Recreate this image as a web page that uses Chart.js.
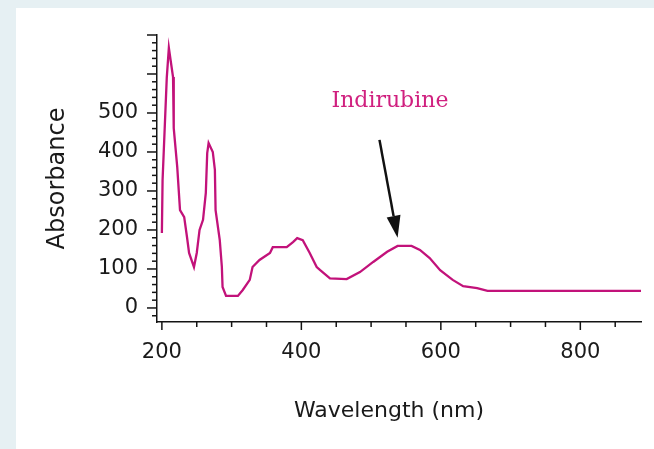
<!DOCTYPE html>
<html>
<head>
<meta charset="utf-8">
<script src="https://cdn.jsdelivr.net/npm/chart.js@4/dist/chart.umd.min.js"></script>
<style>
  html, body { margin: 0; padding: 0; }
  body { width: 654px; height: 449px; background: #e6f0f3; position: relative; overflow: hidden; }
  #panel { position: absolute; left: 16px; top: 8px; right: 0; bottom: 0; background: #fff; }
  #chart { position: absolute; left: 0; top: 0; }
</style>
</head>
<body>
<div id="panel"></div>
<canvas id="chart" width="654" height="449"></canvas>
<script>
// Spectrum (wavelength in nm, absorbance)
const wavelengths = [200, 201, 207, 210, 216, 217, 222, 226, 232, 236,
    239, 246, 250, 254, 259, 263, 265, 267, 273, 276,
    277, 283, 286, 287, 292, 309, 316, 326, 330, 340,
    355, 359, 379, 388, 394, 402, 412, 422, 427, 441,
    465, 484, 503, 523, 538, 558, 570, 584, 599, 617,
    632, 652, 667, 887];
const absorbance = [192, 328, 590, 667, 592, 461, 362, 251, 233, 182,
    141, 105, 141, 200, 226, 295, 397, 423, 400, 354,
    251, 174, 105, 54, 31, 31, 46, 72, 105, 123,
    141, 156, 156, 169, 179, 174, 141, 105, 97, 76,
    74, 92, 118, 144, 159, 159, 149, 128, 97, 72,
    56, 51, 44, 44];

// Axis ticks
const xLabelTicks = [200, 400, 600, 800];
const xMinorTicks = [200, 250, 300, 350, 400, 450, 500, 550, 600, 650, 700, 750, 800, 850];
const yLabelTicks = [0, 100, 200, 300, 400, 500];
const yMajorTicks = [0, 100, 200, 300, 400, 500, 600, 700];
const yMinorTicks = [-20, 0, 20, 40, 60, 80, 100, 120, 140, 160, 180, 200, 220, 240, 260, 280,
    300, 320, 340, 360, 380, 400, 420, 440, 460, 480, 500, 520, 540, 560, 580, 600,
    620, 640, 660, 680, 700];

// Annotation (in data units)
const peakLabel = 'Indirubine';
const labelAt = [527, 515];
const arrowFrom = [512, 431];
const arrowTo = [538, 180];

const axisColor = '#141414';
const lineColor = '#c2127a';

const decorPlugin = {
    id: 'decor',
    afterDraw(chart) {
        const { ctx, chartArea, scales: { x, y } } = chart;
        ctx.save();
        ctx.strokeStyle = axisColor;
        ctx.lineWidth = 1.5;

        // x ticks, below the axis
        xMinorTicks.forEach(v => {
            const px = x.getPixelForValue(v);
            const len = xLabelTicks.includes(v) ? 8 : 5;
            ctx.beginPath();
            ctx.moveTo(px, chartArea.bottom);
            ctx.lineTo(px, chartArea.bottom + len);
            ctx.stroke();
        });

        // y ticks, left of the axis
        yMinorTicks.forEach(v => {
            const py = y.getPixelForValue(v);
            const len = yMajorTicks.includes(v) ? 10 : 5;
            ctx.beginPath();
            ctx.moveTo(chartArea.left, py);
            ctx.lineTo(chartArea.left - len, py);
            ctx.stroke();
        });

        // axis titles
        ctx.fillStyle = '#1a1a1a';
        ctx.font = '24px "DejaVu Sans"';
        ctx.textAlign = 'center';
        ctx.textBaseline = 'middle';
        ctx.save();
        ctx.translate(chartArea.left - 99, (chartArea.top + chartArea.bottom) / 2);
        ctx.rotate(-Math.PI / 2);
        ctx.fillText('Absorbance', 0, 0);
        ctx.restore();

        ctx.font = '22px "DejaVu Sans"';
        ctx.textBaseline = 'alphabetic';
        ctx.fillText('Wavelength (nm)', chartArea.left + 232, chartArea.bottom + 95);

        // peak label
        ctx.fillStyle = '#d0207f';
        ctx.font = '22px "DejaVu Serif"';
        ctx.fillText(peakLabel, x.getPixelForValue(labelAt[0]), y.getPixelForValue(labelAt[1]));

        // arrow
        const x0 = x.getPixelForValue(arrowFrom[0]), y0 = y.getPixelForValue(arrowFrom[1]);
        const x1 = x.getPixelForValue(arrowTo[0]), y1 = y.getPixelForValue(arrowTo[1]);
        const ang = Math.atan2(y1 - y0, x1 - x0);
        const headLen = 22, headW = 7;
        const bx = x1 - headLen * Math.cos(ang), by = y1 - headLen * Math.sin(ang);
        ctx.strokeStyle = '#111';
        ctx.fillStyle = '#111';
        ctx.lineWidth = 2.5;
        ctx.beginPath();
        ctx.moveTo(x0, y0);
        ctx.lineTo(bx, by);
        ctx.stroke();
        ctx.beginPath();
        ctx.moveTo(x1, y1);
        ctx.lineTo(bx + headW * Math.sin(ang), by - headW * Math.cos(ang));
        ctx.lineTo(bx - headW * Math.sin(ang), by + headW * Math.cos(ang));
        ctx.closePath();
        ctx.fill();

        ctx.restore();
    }
};

new Chart(document.getElementById('chart'), {
    type: 'line',
    data: {
        datasets: [{
            data: wavelengths.map((w, i) => ({ x: w, y: absorbance[i] })),
            borderColor: lineColor,
            borderWidth: 2.3,
            pointRadius: 0,
            tension: 0,
            fill: false
        }]
    },
    options: {
        responsive: false,
        animation: false,
        events: [],
        layout: { padding: { top: 35, right: 13, left: 0, bottom: 0 } },
        plugins: { legend: { display: false }, tooltip: { enabled: false } },
        scales: {
            x: {
                type: 'linear',
                min: 193,
                max: 887,
                afterFit: s => { s.height = 127; },
                afterBuildTicks: s => { s.ticks = xLabelTicks.map(v => ({ value: v })); },
                grid: { display: false, drawTicks: false },
                border: { display: true, color: axisColor, width: 1.5 },
                ticks: {
                    color: '#1a1a1a',
                    font: { family: 'DejaVu Sans', size: 21 },
                    padding: 18,
                    maxRotation: 0,
                    autoSkip: false
                }
            },
            y: {
                min: -36,
                max: 700,
                afterFit: s => { s.width = 157; },
                afterBuildTicks: s => { s.ticks = yLabelTicks.map(v => ({ value: v })); },
                grid: { display: false, drawTicks: false },
                border: { display: true, color: axisColor, width: 1.5 },
                ticks: {
                    color: '#1a1a1a',
                    font: { family: 'DejaVu Sans', size: 21 },
                    padding: 19
                }
            }
        }
    },
    plugins: [decorPlugin]
});
</script>
</body>
</html>
